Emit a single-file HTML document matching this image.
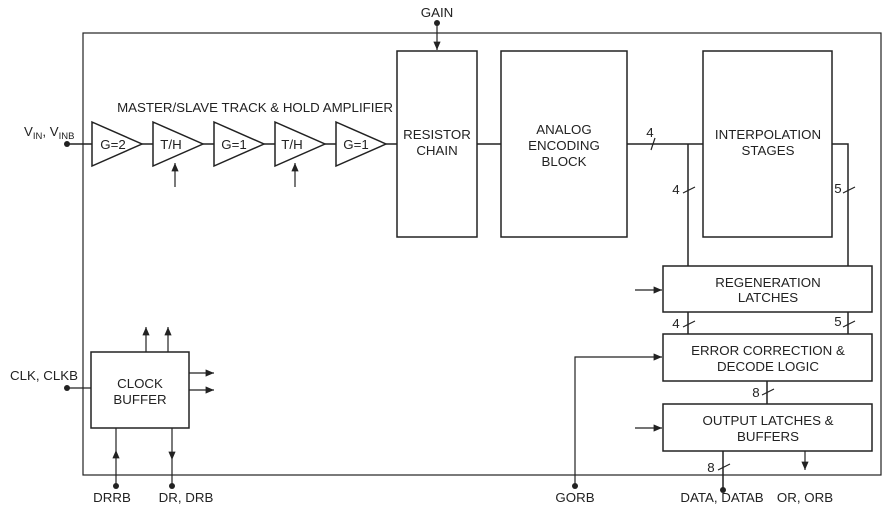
<!DOCTYPE html>
<html><head><style>
body{margin:0;background:#fff}
svg text{font-family:"Liberation Sans",sans-serif;font-size:13.3px;fill:#222}
</style></head><body>
<svg width="896" height="518" viewBox="0 0 896 518" xmlns="http://www.w3.org/2000/svg">
<defs><marker id="a" markerWidth="8" markerHeight="8" refX="7" refY="3" orient="auto"><path d="M0,0 L7,3 L0,6z" fill="#222"/></marker></defs>
<g stroke="#222" stroke-width="1.5" fill="none">
<rect x="83" y="33" width="798" height="442" stroke-width="1.2"/>
<rect x="397" y="51" width="80" height="186"/>
<rect x="501" y="51" width="126" height="186"/>
<rect x="703" y="51" width="129" height="186"/>
<rect x="663" y="266" width="209" height="46"/>
<rect x="663" y="334" width="209" height="47"/>
<rect x="663" y="404" width="209" height="47"/>
<rect x="91" y="352" width="98" height="76"/>
<path d="M67,144 H92 M142,144 H153 M203,144 H214 M264,144 H275 M325,144 H336 M386,144 H397 M477,144 H501 M627,144 H703 M688,144 V266 M832,144 H848 V266 M688,312 V334 M848,312 V334 M767,381 V404 M723,451 V490"/>
<path d="M92,122 L142,144 L92,166Z M153,122 L203,144 L153,166Z M214,122 L264,144 L214,166Z M275,122 L325,144 L275,166Z M336,122 L386,144 L336,166Z" fill="#fff"/>
<g stroke-width="1.2">
<path d="M175,187 V163" marker-end="url(#a)"/>
<path d="M295,187 V163" marker-end="url(#a)"/>
<path d="M437,24 V50" marker-end="url(#a)"/>
<path d="M635,290 H662" marker-end="url(#a)"/>
<path d="M635,428 H662" marker-end="url(#a)"/>
<path d="M575,486 V357 H662" marker-end="url(#a)"/>
<path d="M805,451 V470" marker-end="url(#a)"/>
<path d="M67,388 H91"/>
<path d="M146,352 V327" marker-end="url(#a)"/>
<path d="M168,352 V327" marker-end="url(#a)"/>
<path d="M189,373 H214" marker-end="url(#a)"/>
<path d="M189,390 H214" marker-end="url(#a)"/>
<path d="M116,486 V450" marker-end="url(#a)"/>
<path d="M116,450 V428"/>
<path d="M172,428 V460" marker-end="url(#a)"/>
<path d="M172,460 V486"/>
<path d="M651,150 L655,138 M683,193 L695,187 M843,193 L855,187 M683,327 L695,321 M843,327 L855,321 M762,395 L774,389 M718,470 L730,464"/>
</g>
</g>
<g fill="#222"><circle cx="67" cy="144" r="3"/><circle cx="67" cy="388" r="3"/><circle cx="437" cy="23" r="3"/><circle cx="116" cy="486" r="3"/><circle cx="172" cy="486" r="3"/><circle cx="575" cy="486" r="3"/><circle cx="723" cy="490" r="3"/></g>
<g text-anchor="middle">
<text x="437" y="17">GAIN</text>
<text x="255" y="112">MASTER/SLAVE TRACK &amp; HOLD AMPLIFIER</text>
<text x="113" y="149">G=2</text><text x="171" y="149">T/H</text><text x="234" y="149">G=1</text><text x="292" y="149">T/H</text><text x="356" y="149">G=1</text>
<text x="437" y="139">RESISTOR</text><text x="437" y="155">CHAIN</text>
<text x="564" y="134">ANALOG</text><text x="564" y="150">ENCODING</text><text x="564" y="166">BLOCK</text>
<text x="768" y="139">INTERPOLATION</text><text x="768" y="155">STAGES</text>
<text x="768" y="287">REGENERATION</text><text x="768" y="302">LATCHES</text>
<text x="768" y="355">ERROR CORRECTION &amp;</text><text x="768" y="371">DECODE LOGIC</text>
<text x="768" y="425">OUTPUT LATCHES &amp;</text><text x="768" y="441">BUFFERS</text>
<text x="140" y="388">CLOCK</text><text x="140" y="404">BUFFER</text>
<text x="650" y="137">4</text><text x="676" y="194">4</text><text x="838" y="193">5</text>
<text x="676" y="328">4</text><text x="838" y="326">5</text><text x="756" y="397">8</text><text x="711" y="472">8</text>
<text x="44" y="380">CLK, CLKB</text>
<text x="112" y="502">DRRB</text><text x="186" y="502">DR, DRB</text>
<text x="575" y="502">GORB</text><text x="722" y="502">DATA, DATAB</text><text x="805" y="502">OR, ORB</text>
</g>
<text x="24" y="136">V<tspan font-size="9.5" dy="3">IN</tspan><tspan dy="-3">, V</tspan><tspan font-size="9.5" dy="3">INB</tspan></text>
</svg>
</body></html>
